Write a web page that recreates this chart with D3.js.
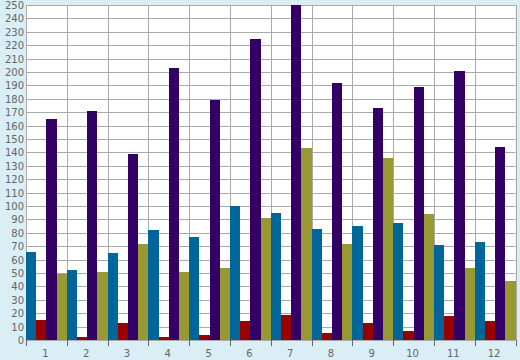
<!DOCTYPE html>
<html><head><meta charset="utf-8">
<script src="https://cdn.jsdelivr.net/npm/d3@7"></script>
<style>html,body{margin:0;padding:0;background:#d9eef5;}svg{display:block;}</style>
</head><body>
<script>
const categories = ["1","2","3","4","5","6","7","8","9","10","11","12"];
const seriesNames = ["blue","red","purple","olive"];
const blueValues   = [66, 52, 65, 82, 77, 100, 95, 83, 85, 87, 71, 73];
const redValues    = [15, 2, 13, 2, 4, 14, 19, 5, 13, 7, 18, 14];
const purpleValues = [165, 171, 139, 203, 179, 225, 250, 192, 173, 189, 201, 144];
const oliveValues  = [49, 51, 72, 51, 54, 91, 143, 72, 136, 94, 54, 44];
const colors = ["#006699", "#990000", "#330066", "#999933"];
const yTicks = d3.range(0, 251, 10);

const W = 520, H = 360;
const m = {left: 26, right: 4.5, top: 5, bottom: 20};
const svg = d3.select("body").append("svg").attr("width", W).attr("height", H);
svg.append("rect").attr("width", W).attr("height", H).attr("fill", "#d9eef5");

const x0 = d3.scaleBand().domain(categories).range([m.left, W - m.right]).padding(0);
const x1 = d3.scaleBand().domain(seriesNames).range([0, x0.bandwidth()]).padding(0);
const y = d3.scaleLinear().domain([0, 250]).range([H - m.bottom, m.top]);

svg.append("rect").attr("x", m.left).attr("y", m.top)
  .attr("width", W - m.right - m.left).attr("height", H - m.bottom - m.top).attr("fill", "#fff");

const grid = svg.append("g").attr("stroke", "#aaaaaa").attr("stroke-width", 1);
yTicks.forEach(t => {
  const yy = Math.round(y(t)) + 0.5;
  grid.append("line").attr("x1", m.left).attr("x2", W - m.right).attr("y1", yy).attr("y2", yy);
});
const bounds = categories.map(c => x0(c)).concat([x0(categories[categories.length-1]) + x0.bandwidth()]);
bounds.forEach(b => {
  const xx = Math.round(b) + 0.5;
  grid.append("line").attr("x1", xx).attr("x2", xx).attr("y1", m.top).attr("y2", H - m.bottom);
});

const data = [blueValues, redValues, purpleValues, oliveValues];
categories.forEach((c, i) => {
  seriesNames.forEach((s, j) => {
    const v = data[j][i];
    svg.append("rect")
      .attr("x", x0(c) + x1(s))
      .attr("width", x1.bandwidth())
      .attr("y", y(v))
      .attr("height", y(0) - y(v))
      .attr("fill", colors[j])
      .attr("shape-rendering", "crispEdges");
  });
});

// x-axis ticks
const tk = svg.append("g").attr("stroke", "#666").attr("stroke-width", 1);
bounds.forEach(b => {
  const xx = Math.round(b) + 0.5;
  tk.append("line").attr("x1", xx).attr("x2", xx).attr("y1", H - m.bottom).attr("y2", H - m.bottom + 6);
});

svg.append("g").selectAll("text").data(categories).join("text")
  .attr("x", d => x0(d) + x0.bandwidth() / 2 - 1)
  .attr("y", 357)
  .attr("text-anchor", "middle")
  .attr("font-family", "DejaVu Sans, Verdana, sans-serif")
  .attr("font-size", 10)
  .attr("fill", "#666")
  .text(d => d);

svg.append("g").selectAll("text").data(yTicks).join("text")
  .attr("x", 24)
  .attr("y", d => y(d) + 4)
  .attr("text-anchor", "end")
  .attr("font-family", "DejaVu Sans, Verdana, sans-serif")
  .attr("font-size", 10)
  .attr("fill", "#666")
  .text(d => d);
</script>
</body></html>
